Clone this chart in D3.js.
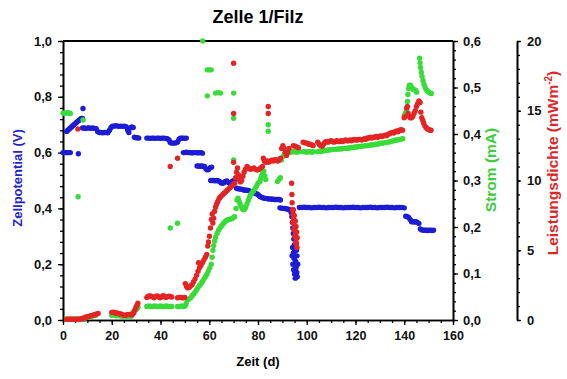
<!DOCTYPE html>
<html>
<head>
<meta charset="utf-8">
<script src="https://cdn.jsdelivr.net/npm/d3@7"></script>
<style>
  html, body { margin: 0; padding: 0; background: #fff; }
  svg { display: block; font-family: "Liberation Sans", Arial, sans-serif; }
</style>
</head>
<body>
<svg id="chart" width="567" height="379"></svg>
<script>
// ---- axis ticks ----
const dayTicks = [0, 20, 40, 60, 80, 100, 120, 140, 160];
const potentialTicks = [0, 0.2, 0.4, 0.6, 0.8, 1.0];
const currentTicks = [0, 0.1, 0.2, 0.3, 0.4, 0.5, 0.6];
const powerTicks = [0, 5, 10, 15, 20];

// ---- Zellpotential (V): [Zeit (d), V] ----
const potential = [
  [0,0.600],[0.5,0.600],[1,0.600],[1.5,0.600],[2,0.600],[2.5,0.600],[3,0.600],[6.3,0.596],
  [1.5,0.676],[2,0.680],[2.5,0.684],[3,0.688],[3.5,0.692],[4,0.696],[4.5,0.700],[5,0.704],[5.5,0.708],[6,0.712],[6.5,0.715],[7,0.719],[7.5,0.722],[8,0.722],[8.2,0.758],
  [8.0,0.688],[8.7,0.688],[9.4,0.687],[10.1,0.688],[10.8,0.688],[11.5,0.687],[12.2,0.688],[12.9,0.687],[13.6,0.686],[14.2,0.676],[14.9,0.672],[15.6,0.672],[16.3,0.671],[17.0,0.672],[17.7,0.672],[18.4,0.671],[19.1,0.680],[19.7,0.690],[20.3,0.695],[21.0,0.695],[21.7,0.696],[22.4,0.695],[23.1,0.694],[23.8,0.695],[24.5,0.694],[25.2,0.695],[25.9,0.693],[26.5,0.681],[27.0,0.672],[27.6,0.688],[28.2,0.692],[28.8,0.690],[29.3,0.655],[29.9,0.653],[30.5,0.653],[31.1,0.652],
  [34.4,0.652],[35.1,0.652],[35.8,0.651],[36.5,0.652],[37.2,0.652],[37.9,0.651],[38.6,0.652],[39.3,0.652],[40.0,0.651],[40.7,0.652],[41.4,0.652],[42.1,0.651],[42.8,0.650],[43.5,0.645],[44.0,0.636],[44.6,0.634],[45.2,0.634],[45.8,0.634],[46.4,0.635],[47.0,0.638],[47.6,0.648],[48.2,0.652],[48.8,0.652],[49.4,0.652],[50.0,0.651],[50.6,0.652],
  [49.4,0.600],[50.0,0.600],[50.6,0.601],[51.2,0.600],[51.8,0.600],[52.4,0.600],[53.0,0.599],[53.6,0.600],[54.2,0.600],[54.8,0.600],[55.4,0.599],[56.0,0.600],[56.6,0.600],[57.2,0.598],
  [55.0,0.552],[55.6,0.552],[56.2,0.551],[56.8,0.552],[57.4,0.551],[58.0,0.550],[58.6,0.542],[59.2,0.538],[59.8,0.540],[60.4,0.546],[61.0,0.548],
  [60.6,0.500],[61.2,0.500],[61.8,0.500],[62.4,0.499],[63.0,0.500],[63.6,0.499],[64.2,0.497],[64.8,0.492],[65.4,0.490],[66.0,0.492],[66.6,0.497],[67.2,0.498],[67.8,0.493],[68.4,0.490],[69.0,0.493],[69.6,0.498],[70.2,0.499],[70.6,0.500],
  [71.2,0.472],[71.8,0.470],[72.4,0.470],[73.0,0.469],[73.6,0.468],[74.2,0.466],[74.8,0.465],[75.4,0.465],[76.0,0.464],[76.6,0.462],[77.2,0.460],[77.8,0.457],[78.4,0.455],[79.0,0.454],[79.6,0.452],[80.2,0.448],[80.8,0.443],[81.4,0.440],[82.0,0.438],[82.6,0.436],[83.2,0.436],[83.8,0.435],[84.4,0.434],[85.0,0.434],[85.6,0.433],[86.2,0.433],[86.8,0.432],[87.4,0.432],[88.0,0.432],[88.6,0.432],[89.2,0.430],
  [89.0,0.402],[89.6,0.401],[90.2,0.400],[90.8,0.400],[91.4,0.399],[92.0,0.398],[92.6,0.396],[93.2,0.394],
  [93.6,0.385],[93.9,0.370],[94.1,0.350],[94.3,0.330],[94.5,0.310],[94.7,0.290],[94.9,0.270],[95.1,0.250],[95.3,0.230],[95.5,0.210],[95.7,0.190],[95.9,0.170],[96.1,0.155],
  [94.2,0.260],[94.5,0.240],[94.8,0.220],[95.1,0.200],[95.4,0.180],[95.7,0.160],[94.0,0.230],[94.3,0.200],[94.6,0.180],[95.0,0.165],[95.3,0.150],[96.3,0.200],[96.0,0.230],[95.8,0.250],
  [97,0.403],[98,0.403],[99,0.404],[100,0.403],[101,0.403],[102,0.402],[103,0.403],[104,0.403],[105,0.404],[106,0.403],[107,0.403],[108,0.402],[109,0.403],[110,0.403],[111,0.403],[112,0.404],[113,0.403],[114,0.403],[115,0.402],[116,0.403],[117,0.403],[118,0.403],[119,0.404],[120,0.403],
  [121,0.403],[122,0.402],[123,0.403],[124,0.403],[125,0.403],[126,0.404],[127,0.403],[128,0.403],[129,0.402],[130,0.403],[131,0.403],[132,0.403],[133,0.404],[134,0.403],[135,0.403],[136,0.402],[137,0.403],[138,0.403],[139,0.403],[140,0.402],
  [140.6,0.372],[141.2,0.370],[141.8,0.368],[142.4,0.360],[143.0,0.352],[143.6,0.352],[144.2,0.351],[144.8,0.352],[145.4,0.350],[146.0,0.346],[146.6,0.326],[147.2,0.323],[147.8,0.322],[148.4,0.322],[149.0,0.322],[149.6,0.321],[150.2,0.322],[150.8,0.322],[151.4,0.321],[152.0,0.322]
];

// ---- Strom (mA): [Zeit (d), mA] ----
const current = [
  [0,0.445],[0.5,0.445],[1,0.445],[1.5,0.445],[2,0.446],[2.5,0.445],[3,0.444],
  [6.2,0.265],[8.2,0.430],
  [1.5,0.002],[3,0.002],[4.5,0.002],[6,0.002],[7.5,0.003],[9,0.004],[10.5,0.006],[12,0.008],[13.5,0.010],
  [20,0.010],[21,0.010],[22,0.009],[23,0.009],[24,0.008],[25,0.008],[26,0.008],[27,0.008],[28,0.008],[28.7,0.017],[29.3,0.020],[29.8,0.022],[30.4,0.025],[30.8,0.028],
  [34.4,0.029],[35.2,0.030],[36.0,0.029],[36.8,0.029],[37.6,0.030],[38.4,0.029],[39.2,0.029],[40.0,0.030],[40.8,0.029],[41.6,0.029],[42.4,0.030],[43.2,0.029],[44.0,0.029],[44.6,0.029],
  [47.0,0.029],[47.8,0.029],[48.6,0.030],[49.4,0.029],[50.1,0.030],
  [44.0,0.198],[47.0,0.208],
  [50.5,0.035],[51.0,0.043],[51.7,0.045],[52.4,0.048],[53.0,0.052],[53.6,0.056],[54.2,0.060],[54.8,0.065],[55.4,0.070],[56.0,0.074],[56.6,0.078],[57.2,0.083],[57.8,0.088],[58.4,0.093],[59.0,0.098],[59.6,0.105],[60.2,0.112],[60.8,0.120],[61.2,0.135],[61.5,0.150],[61.8,0.160],[62.2,0.170],[62.6,0.178],[63.2,0.186],[63.8,0.193],[64.4,0.198],[65.0,0.202],[65.6,0.206],[66.2,0.210],[66.8,0.213],[67.4,0.215],[68.0,0.216],[68.6,0.217],[69.2,0.218],[69.8,0.220],[70.4,0.222],
  [71.0,0.240],[71.4,0.258],[71.8,0.262],[72.2,0.256],[72.6,0.250],[73.0,0.245],[73.5,0.240],[74.0,0.237],[74.5,0.238],[75.0,0.243],[75.5,0.250],[76.0,0.257],[76.5,0.264],[77.0,0.270],[77.6,0.274],[78.2,0.278],[78.8,0.283],[79.4,0.288],[80.0,0.294],
  [80.8,0.298],[81.2,0.305],[81.6,0.312],[82.0,0.318],[82.4,0.320],[82.8,0.310],[83.2,0.302],
  [88.0,0.298],[88.6,0.302],[89.2,0.306],[89.6,0.344],
  [84.2,0.420],[84.2,0.406],
  [57.3,0.600],[59.2,0.538],[60.0,0.538],[60.8,0.538],[59.2,0.482],[62.6,0.488],[63.6,0.489],[64.6,0.488],[70.0,0.488],[70.0,0.434],[70.0,0.344],
  [90.4,0.352],[91.0,0.358],[91.6,0.360],[92.2,0.360],[92.8,0.361],[93.4,0.361],[94.0,0.362],[94.6,0.362],[95.2,0.362],[95.8,0.361],[96.4,0.362],[97.0,0.362],
  [98.6,0.362],[99.3,0.362],[100.0,0.361],[100.7,0.362],[101.4,0.362],[102.1,0.361],[102.6,0.362],
  [104.4,0.362],[105.1,0.363],[105.8,0.362],[106.5,0.364],[107.2,0.364],[107.9,0.365],[108.6,0.365],[109.3,0.366],[110.0,0.366],[110.7,0.367],[111.4,0.367],[112.1,0.367],[112.8,0.368],[113.5,0.368],[114.2,0.368],[114.9,0.369],[115.6,0.369],[116.3,0.369],[117.0,0.370],[117.7,0.370],[118.4,0.371],[119.1,0.371],[119.8,0.372],[120.5,0.372],
  [121.2,0.373],[121.9,0.373],[122.6,0.374],[123.3,0.374],[124.0,0.375],[124.7,0.375],[125.4,0.376],[126.1,0.376],[126.8,0.377],[127.5,0.377],[128.2,0.378],[128.9,0.378],[129.6,0.379],[130.3,0.380],[131.0,0.380],[131.7,0.381],[132.4,0.382],[133.1,0.382],[133.8,0.383],[134.5,0.384],[135.2,0.385],[135.9,0.386],[136.6,0.387],[137.3,0.387],[138.0,0.388],[138.7,0.389],[139.4,0.390],
  [140.0,0.440],[140.5,0.445],[141.0,0.452],[141.3,0.470],[141.5,0.485],[141.8,0.498],[142.1,0.505],[142.6,0.505],[143.1,0.500],[143.6,0.497],[144.1,0.495],[144.6,0.494],[145.1,0.490],
  [146.3,0.563],[146.5,0.553],[146.7,0.543],[147.0,0.533],[147.3,0.524],[147.7,0.515],[148.1,0.507],[148.6,0.500],[149.1,0.495],[149.6,0.492],[150.1,0.490],[150.6,0.488],[151.1,0.487]
];

// ---- Leistungsdichte (mW/m^2): [Zeit (d), mW/m^2] ----
const power = [
  [1.5,0.05],[2.2,0.05],[2.9,0.05],[3.6,0.05],[4.3,0.05],[5.0,0.06],[5.7,0.06],[6.4,0.06],[7.1,0.07],[7.8,0.08],[8.4,0.14],[9.0,0.18],[9.6,0.21],[10.2,0.24],[10.8,0.27],[11.4,0.30],[12.0,0.33],[12.6,0.36],[13.2,0.40],[13.8,0.44],[14.4,0.47],
  [6.1,13.7],
  [20.0,0.55],[20.6,0.56],[21.2,0.52],[21.8,0.50],[22.4,0.48],[23.0,0.45],[23.6,0.43],[24.2,0.40],[24.8,0.35],[25.4,0.33],[26.0,0.36],[26.6,0.40],[27.2,0.40],[27.8,0.38],[28.4,0.38],[29.0,0.50],[29.5,0.70],[29.9,0.90],[30.3,1.05],[30.7,1.20],
  [34.4,1.62],[35.0,1.70],[35.6,1.72],[36.2,1.70],[36.8,1.65],[37.4,1.60],[38.0,1.68],[38.6,1.72],[39.2,1.66],[39.8,1.60],[40.4,1.65],[41.0,1.75],[41.6,1.70],[42.2,1.62],[42.8,1.66],[43.4,1.70],[44.0,1.68],[44.6,1.65],
  [47.0,1.60],[47.6,1.62],[48.2,1.62],[48.8,1.60],[49.4,1.60],[50.0,1.62],
  [44.0,11.0],[47.0,11.6],
  [50.2,2.60],[50.7,2.40],[51.2,2.30],[51.8,2.35],[52.4,2.45],[53.0,2.55],[53.6,2.75],[54.2,2.95],[54.8,3.20],[55.4,3.50],[55.6,4.10],[56.0,3.75],[56.6,3.90],[57.2,4.10],[57.8,4.30],[58.4,4.50],[59.0,4.70],[59.4,5.30],[59.7,5.60],[60.1,6.00],[60.5,6.60],[60.9,7.20],[61.2,7.60],[61.5,6.95],[61.8,7.30],[62.2,7.80],[62.6,8.10],[63.0,8.30],[63.5,8.50],[64.0,8.70],[64.5,8.80],[65.0,8.90],[65.6,9.00],[66.2,9.10],[66.8,9.20],[67.4,9.30],[68.0,9.40],[68.6,9.50],[69.2,9.60],[69.8,9.70],[70.4,9.80],
  [70.8,10.2],[71.2,10.6],[71.6,10.9],[72.0,10.4],[72.4,10.1],[72.8,9.9],[73.3,10.0],[73.8,10.3],[74.3,10.6],[74.8,10.8],[75.5,11.0],[76.2,10.9],[76.9,10.8],[77.6,10.85],[78.3,10.9],[79.0,10.8],[79.7,10.75],[80.4,10.8],[81.1,10.9],[81.8,11.0],[82.2,11.6],[82.6,11.4],[83.2,11.3],[83.8,11.4],[84.4,11.3],[85.0,11.4],[85.6,11.45],[86.2,11.4],[86.8,11.5],[87.4,11.5],[88.0,11.4],[88.6,11.45],[89.2,11.6],[89.7,12.3],[90.2,12.5],[90.7,12.3],[91.2,12.0],[91.7,11.8],[92.2,12.0],[92.7,12.3],
  [70.0,18.4],[70.0,14.8],[70.0,11.3],[84.2,15.3],[84.2,14.8],
  [93.8,9.8],[93.9,9.0],[94.0,8.4],[94.2,7.9],[94.4,7.6],[94.6,7.3],[94.8,7.0],[95.0,6.7],[95.2,6.4],[95.4,6.1],[95.6,5.8],[95.8,5.5],[96.0,5.2],[94.5,7.9],[94.9,7.5],[95.3,7.1],[95.6,6.7],[95.9,6.3],[96.1,5.9],[94.3,7.0],[94.7,6.5],[95.1,6.0],[95.5,5.5],
  [94.5,12.5],[95.2,12.45],[95.9,12.4],[96.6,12.35],
  [98.5,12.75],[99.1,12.7],[99.7,12.7],[100.3,12.65],[100.9,12.6],[101.5,12.6],[102.1,12.55],[102.6,12.5],
  [104.5,12.75],[105.1,12.6],[105.7,12.5],[106.3,12.45],[106.9,12.6],[107.5,12.75],[108.1,12.8],[108.7,12.75],[109.3,12.8],[109.9,12.85],[110.5,12.8],[111.1,12.75],[111.7,12.8],[112.3,12.85],[112.9,12.8],[113.5,12.8],[114.1,12.85],[114.7,12.8],[115.3,12.85],[115.9,12.9],[116.5,12.85],[117.1,12.85],[117.7,12.9],[118.3,12.85],[118.9,12.9],[119.5,12.95],[120.1,12.9],[120.7,12.9],
  [121.3,12.95],[121.9,12.95],[122.5,12.9],[123.1,12.95],[123.7,13.0],[124.3,12.95],[124.9,13.05],[125.5,13.05],[126.1,13.1],[126.7,13.05],[127.3,13.1],[127.9,13.1],[128.5,13.15],[129.1,13.1],[129.7,13.15],[130.3,13.2],[130.9,13.15],[131.5,13.2],[132.1,13.25],[132.7,13.2],[133.3,13.3],[133.9,13.35],[134.5,13.4],[135.1,13.45],[135.7,13.4],[136.3,13.5],[136.9,13.55],[137.5,13.5],[138.1,13.6],[138.7,13.65],[139.3,13.6],
  [140.0,14.5],[140.5,14.6],[141.0,15.2],[141.3,15.3],[141.6,14.8],[142.0,14.6],[142.5,14.5],[143.0,14.5],[143.5,14.6],[144.0,14.8],[144.5,15.0],[145.0,15.3],[145.5,15.5],[146.0,15.7],[146.5,15.6],[146.8,14.9],[147.2,14.5],[147.6,14.3],[148.0,14.1],[148.5,13.9],[149.0,13.8],[149.5,13.7],[150.0,13.65],[150.5,13.6],[151.0,13.6]
];

// ---- layout ----
const svg = d3.select("#chart");
const plotLeft = 63, plotRight = 453, plotTop = 41, plotBottom = 320;
const powerAxisX = 517;

const x = d3.scaleLinear().domain([0, 160]).range([plotLeft, plotRight]);
const yV = d3.scaleLinear().domain([0, 1]).range([plotBottom, plotTop]);
const yI = d3.scaleLinear().domain([0, 0.6]).range([plotBottom, plotTop]);
const yP = d3.scaleLinear().domain([0, 20]).range([plotBottom, plotTop]);

const comma = d => d3.format(".1f")(d).replace(".", ",");
const font = "'Liberation Sans', Arial, sans-serif";

function styleAxis(g, size) {
  g.select(".domain").attr("stroke", "#000").attr("stroke-width", 1.6);
  g.selectAll(".tick line").attr("stroke", "#000").attr("stroke-width", 1.3);
  g.selectAll(".tick text")
    .attr("font-family", font).attr("font-size", size).attr("font-weight", "bold").attr("fill", "#111");
}

// minor ticks (no labels)
function minor(axis, values) {
  return axis.tickValues(values).tickSizeInner(3).tickSizeOuter(0).tickFormat("");
}

// top border of the plot
svg.append("line")
  .attr("x1", plotLeft).attr("x2", plotRight).attr("y1", plotTop).attr("y2", plotTop)
  .attr("stroke", "#000").attr("stroke-width", 2);

// bottom axis
svg.append("g").attr("transform", `translate(0,${plotBottom})`)
  .call(minor(d3.axisBottom(x), d3.range(0, 160.01, 5)))
  .call(g => styleAxis(g, 12.5));
svg.append("g").attr("transform", `translate(0,${plotBottom})`)
  .call(d3.axisBottom(x).tickValues(dayTicks).tickSizeInner(5).tickSizeOuter(0).tickPadding(6).tickFormat(d3.format("d")))
  .call(g => styleAxis(g, 12.5));

// left axis: Zellpotential
svg.append("g").attr("transform", `translate(${plotLeft},0)`)
  .call(minor(d3.axisLeft(yV), d3.range(0, 1.0001, 0.04)))
  .call(g => styleAxis(g, 13));
svg.append("g").attr("transform", `translate(${plotLeft},0)`)
  .call(d3.axisLeft(yV).tickValues(potentialTicks).tickSizeInner(5).tickSizeOuter(0).tickPadding(6).tickFormat(comma))
  .call(g => styleAxis(g, 13));

// right axis: Strom
svg.append("g").attr("transform", `translate(${plotRight},0)`)
  .call(minor(d3.axisRight(yI), d3.range(0, 0.6001, 0.02)))
  .call(g => styleAxis(g, 13));
svg.append("g").attr("transform", `translate(${plotRight},0)`)
  .call(d3.axisRight(yI).tickValues(currentTicks).tickSizeInner(5).tickSizeOuter(0).tickPadding(5).tickFormat(comma))
  .call(g => styleAxis(g, 13));

// second right axis: Leistungsdichte
svg.append("g").attr("transform", `translate(${powerAxisX},0)`)
  .call(minor(d3.axisRight(yP), d3.range(0, 20.01, 1)))
  .call(g => styleAxis(g, 13));
svg.append("g").attr("transform", `translate(${powerAxisX},0)`)
  .call(d3.axisRight(yP).tickValues(powerTicks).tickSizeInner(4).tickSizeOuter(0).tickPadding(6).tickFormat(d3.format("d")))
  .call(g => styleAxis(g, 13));

// ---- data points ----
const r = 2.7;
svg.append("g").selectAll("circle").data(potential).join("circle")
  .attr("cx", d => x(d[0])).attr("cy", d => yV(d[1])).attr("r", r).attr("fill", "#1c1cd6");
svg.append("g").selectAll("circle").data(current).join("circle")
  .attr("cx", d => x(d[0])).attr("cy", d => yI(d[1])).attr("r", r).attr("fill", "#38dc38");
svg.append("g").selectAll("circle").data(power).join("circle")
  .attr("cx", d => x(d[0])).attr("cy", d => yP(d[1])).attr("r", r).attr("fill", "#e42424");

// ---- titles ----
svg.append("text").attr("x", (plotLeft + plotRight) / 2).attr("y", 23)
  .attr("text-anchor", "middle").attr("font-family", font).attr("font-size", 18).attr("font-weight", "bold")
  .text("Zelle 1/Filz");

svg.append("text").attr("x", (plotLeft + plotRight) / 2).attr("y", 366)
  .attr("text-anchor", "middle").attr("font-family", font).attr("font-size", 13).attr("font-weight", "bold")
  .text("Zeit (d)");

svg.append("text").attr("transform", "translate(22,178) rotate(-90)")
  .attr("text-anchor", "middle").attr("font-family", font).attr("font-size", 13).attr("font-weight", "bold")
  .attr("fill", "#2424c8").text("Zellpotential (V)");

svg.append("text").attr("transform", "translate(496,170) rotate(-90)")
  .attr("text-anchor", "middle").attr("font-family", font).attr("font-size", 15.5).attr("font-weight", "bold")
  .attr("fill", "#3ccc3c").text("Strom (mA)");

const pLabel = svg.append("text").attr("transform", "translate(558,163) rotate(-90)")
  .attr("text-anchor", "middle").attr("font-family", font).attr("font-size", 15.5).attr("font-weight", "bold")
  .attr("fill", "#dc2828");
pLabel.append("tspan").text("Leistungsdichte (mWm");
pLabel.append("tspan").attr("dy", -6).attr("font-size", 10).text("-2");
pLabel.append("tspan").attr("dy", 6).text(")");
</script>
</body>
</html>
